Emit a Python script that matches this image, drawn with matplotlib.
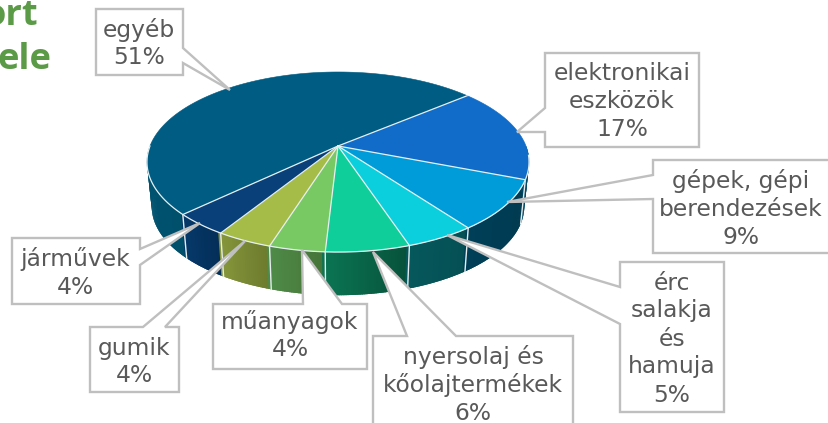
import numpy as np
import matplotlib
matplotlib.use("Agg")
import matplotlib.pyplot as plt
from matplotlib.patches import Polygon
from matplotlib.colors import to_rgb

# --- data (clockwise from the upper right) ---
categories = ["elektronikai\neszközök", "gépek, gépi\nberendezések", "érc\nsalakja\nés\nhamuja",
              "nyersolaj és\nkőolajtermékek", "műanyagok", "gumik", "járművek", "egyéb"]
shares = [17, 9, 5, 6, 4, 4, 4, 51]

# --- styles ---
top_colors = ["#106CC8", "#009CD9", "#0BCFDC", "#10CE9A", "#78C864", "#A6BC48", "#0A4079", "#005C82"]
wall_left = ["#004A68", "#003F58", "#05585C", "#0A7553", "#4F8C48", "#84963B", "#05396A", "#00607F"]
wall_right = ["#003F58", "#003A50", "#054F54", "#07503A", "#467338", "#6C7A2D", "#042E58", "#00506C"]
GREY = "#BFBFBF"
TEXT = "#595959"

# --- layout: box x0, y0, x1, y1, text centre x, first-line y, leader base A, B, tip ---
layout = [
    (545, 53, 699, 147, 622, 73, (545, 108), (545, 132), (517, 132)),
    (653, 160, 835, 253, 741, 181, (653, 175), (653, 199), (507, 202)),
    (620, 262, 724, 412, 672, 283, (620, 287), (620, 324), (447, 235)),
    (373, 336, 573, 440, 473, 357, (407, 336), (456, 336), (373, 252)),
    (213, 304, 367, 369, 290, 322, (303, 304), (342, 304), (302, 250)),
    (90, 327, 179, 392, 134, 348, (143, 327), (165, 327), (245, 241)),
    (12, 238, 140, 304, 75, 259, (140, 249), (140, 265), (200, 223)),
    (96, 9, 183, 75, 139, 30, (183, 48), (183, 63), (230, 90)),
]

W, H = 829, 423
fig = plt.figure(figsize=(W / 100, H / 100), dpi=100)
ax = fig.add_axes([0, 0, 1, 1])
ax.set_xlim(0, W)
ax.set_ylim(H, 0)
ax.axis("off")

# Tilted disc seen in perspective: unit circle -> screen
CX, K, Y0, A, C = 338.0, 188.0, 146.0, -61.2, 0.178
START = 40.0


def top_pt(deg):
    t = np.radians(deg)
    u, v = np.cos(t), np.sin(t)
    d = C * v + 1
    return CX + K * u / d, (A * v + Y0) / d


def bottom_pt(deg):
    x, y = top_pt(deg)
    return CX + (x - CX) * 0.975, 162 + (y - 162) * 0.985 + 44.5


edges = START - np.cumsum([0] + shares) * 3.6
SEAM = "#E6EDEE"

# walls: opaque strips overlap the next one; only the front half is visible
for i in range(len(shares)):
    a0, a1 = edges[i], edges[i + 1]
    n = max(int(abs(a1 - a0) / 0.6), 2)
    ts = np.linspace(a0, a1, n + 1)
    c0, c1 = np.array(to_rgb(wall_right[i])), np.array(to_rgb(wall_left[i]))
    for j in range(n):
        t0, t1 = ts[j], ts[j + 1]
        if np.sin(np.radians(t0)) > 0.0 and np.sin(np.radians(t1)) > 0.0:
            continue
        poly = [top_pt(t0), top_pt(t1 - 0.8), bottom_pt(t1 - 0.8), bottom_pt(t0)]
        col = c0 + (c1 - c0) * (j + .5) / n
        ax.add_patch(Polygon(poly, closed=True, fc=col, ec="none", zorder=2 + j * 1e-4))
for i in range(len(shares)):
    t = edges[i]
    if np.sin(np.radians(t)) < -0.1:
        p, q = top_pt(t), bottom_pt(t)
        ax.plot([p[0], q[0]], [p[1], q[1]], color=SEAM, lw=1.0, zorder=3)

# top wedges
for i in range(len(shares)):
    ts = np.linspace(edges[i], edges[i + 1], 120)
    pts = [top_pt(t) for t in ts] + [(CX, Y0)]
    ax.add_patch(Polygon(pts, closed=True, fc=top_colors[i], ec=top_colors[i], lw=0.4, zorder=4))
for t in edges[:-1]:
    p = top_pt(t)
    ax.plot([CX, p[0]], [Y0, p[1]], color="#E6F0F2", lw=0.9, zorder=5)
front = np.linspace(-6, -180, 200)
fx, fy = zip(*[top_pt(t) for t in front])
ax.plot(fx, fy, color="#E6F0F2", lw=0.9, zorder=5)

# callouts
for name, val, box in zip(categories, shares, layout):
    x0, y0, x1, y1, tx, ty, a, b, tip = box
    if a[1] == y0:            # leader leaves through the top edge
        outline = [(x0, y0), a, tip, b, (x1, y0), (x1, y1), (x0, y1)]
    elif a[0] == x1:          # right edge
        outline = [(x0, y0), (x1, y0), a, tip, b, (x1, y1), (x0, y1)]
    else:                     # left edge
        outline = [(x0, y0), (x1, y0), (x1, y1), (x0, y1), b, tip, a]
    ax.add_patch(Polygon(outline, closed=True, fc="white", ec=GREY, lw=1.7,
                         joinstyle="miter", zorder=6))
    for k, line in enumerate((name + f"\n{val}%").split("\n")):
        ax.text(tx, ty + 28 * k, line, ha="center", va="center", fontsize=16.8,
                color=TEXT, family="DejaVu Sans", zorder=7)

# fragments of the cropped heading
for s, xr, yb in (("ort", 38, 25), ("ele", 51, 69)):
    ax.text(xr, yb, s, ha="right", va="baseline", fontsize=26, fontweight="bold",
            color="#5B9A46", family="Open Sans", zorder=7)

fig.savefig("out.png", dpi=100, facecolor="white")
